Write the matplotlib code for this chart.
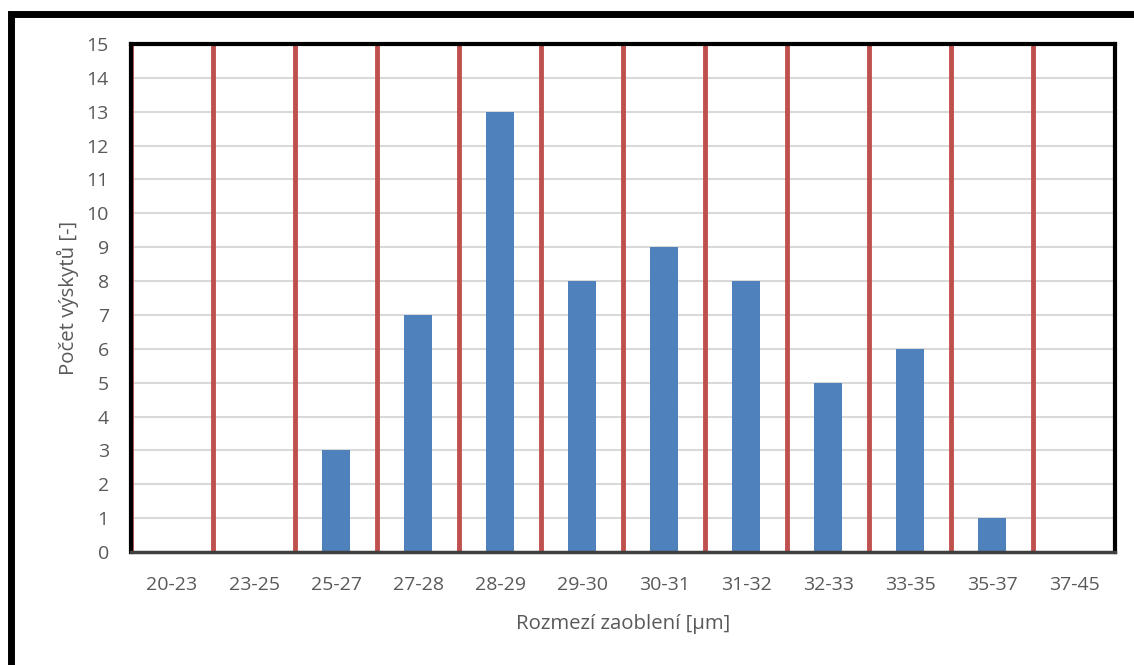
import matplotlib
matplotlib.use("Agg")
import matplotlib.pyplot as plt
from matplotlib.patches import Rectangle

categories = ["20-23", "23-25", "25-27", "27-28", "28-29", "29-30",
              "30-31", "31-32", "32-33", "33-35", "35-37", "37-45"]
counts = [0, 0, 3, 7, 13, 8, 9, 8, 5, 6, 1, 0]
y_ticks = list(range(0, 16))

W, H = 1134, 665
fig = plt.figure(figsize=(W / 100, H / 100), dpi=100)
plt.rcParams["font.family"] = ["Open Sans", "DejaVu Sans"]

text_color = "#595959"
bar_color = "#4f81bd"
red = "#c0504d"

# outer frame (runs off the right and bottom edge)
fig.patches.append(Rectangle((11 / W, -0.1), 1.2, 1 - 14 / H + 0.1,
                             transform=fig.transFigure, fill=False,
                             edgecolor="black", linewidth=5, zorder=0))

left, right, top, bottom = 131, 1115, 44, 552
ax = fig.add_axes([left / W, 1 - bottom / H, (right - left) / W, (bottom - top) / H])

x = list(range(len(categories)))
ax.bar(x, counts, width=0.34, color=bar_color, zorder=3)

ax.set_xlim(-0.5, len(categories) - 0.5)
ax.set_ylim(0, 15)
ax.set_yticks(y_ticks)
ax.set_xticks(x)
ax.set_xticklabels(categories)

ax.yaxis.grid(True, color="#d9d9d9", linewidth=1.5, zorder=0)
ax.set_axisbelow(True)

for i in range(len(categories) + 1):
    ax.axvline(i - 0.5, color=red, linewidth=3.5, zorder=2)

for side in ["left", "top", "right"]:
    ax.spines[side].set_linewidth(3)
    ax.spines[side].set_color("black")
ax.spines["bottom"].set_linewidth(2.5)
ax.spines["bottom"].set_color("#404040")
for s in ax.spines.values():
    s.set_zorder(5)

ax.tick_params(axis="both", length=0, labelsize=14, colors=text_color)
ax.tick_params(axis="x", pad=17)
ax.tick_params(axis="y", pad=16)

ax.set_xlabel("Rozmezí zaoblení [µm]", fontsize=14.7, color=text_color, labelpad=15)
ax.set_ylabel("Počet výskytů [-]", fontsize=14.7, color=text_color, labelpad=5)

fig.savefig("out.png", dpi=100)
